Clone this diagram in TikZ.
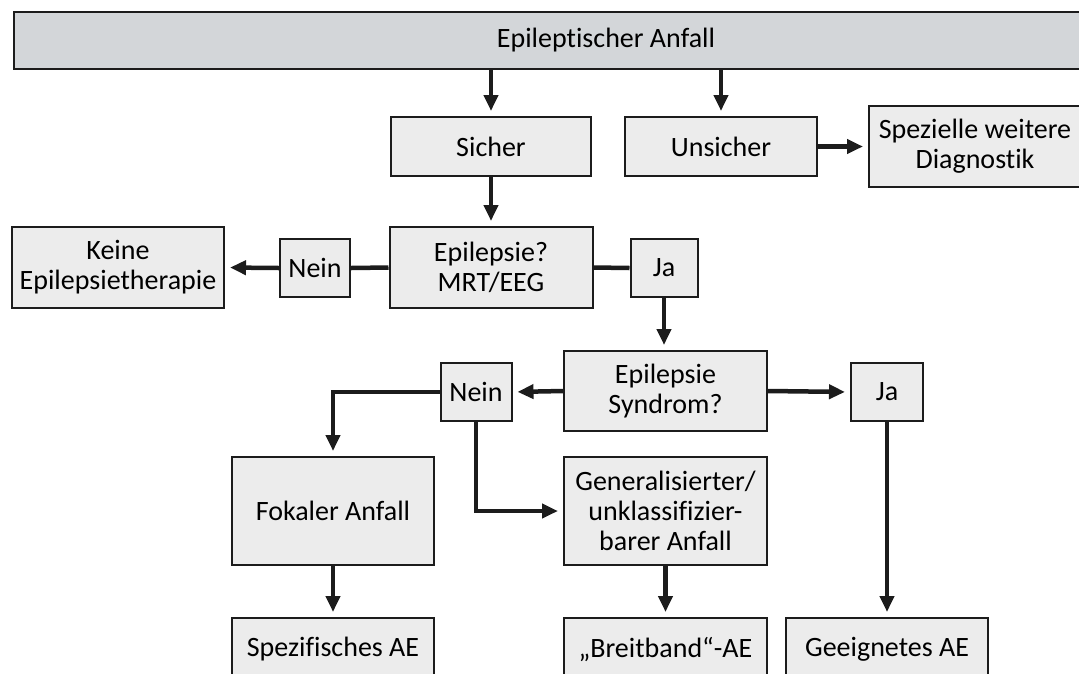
\documentclass[tikz,border=0pt]{standalone}
\usepackage{fontspec}
\setmainfont[Ligatures={NoCommon}]{Carlito}
\usetikzlibrary{arrows.meta}

\definecolor{barfill}{RGB}{211,214,217}
\definecolor{boxfill}{RGB}{236,236,236}
\definecolor{edge}{RGB}{28,28,28}

\begin{document}
\begin{tikzpicture}[x=1pt, y=-1pt,
    box/.style={draw=edge, fill=boxfill, line width=2pt, inner sep=0pt, align=center,
                font=\fontsize{28}{30}\selectfont},
    topbar/.style={box, fill=barfill},
    link/.style={draw=edge, line width=4.5pt},
    flow/.style={link, -{Triangle[length=16pt,width=14pt]}, shorten >=5pt}]
    \useasboundingbox (0,0) rectangle (1079,673);
    \clip (0,0) rectangle (1079,673);

    % Kopfzeile
    \node[topbar, minimum width=1184pt, minimum height=57pt] (anfall) at (606,40.5) {Epileptischer Anfall};

    \node[box, minimum width=200pt, minimum height=59pt] (sicher) at (491,146.5) {Sicher};
    \node[box, minimum width=192pt, minimum height=59pt] (unsicher) at (721,146.5) {Unsicher};
    \node[box, minimum width=212pt, minimum height=81pt] (spezdiag) at (975,146.5) {Spezielle weitere\\Diagnostik};

    \node[box, minimum width=212pt, minimum height=81pt] (keine) at (118,267.5) {Keine\\Epilepsietherapie};
    \node[box, minimum width=70pt, minimum height=58pt] (nein1) at (315,268) {Nein};
    \node[box, minimum width=203pt, minimum height=81pt] (epil) at (491,267.5) {Epilepsie?\\MRT/EEG};
    \node[box, minimum width=67pt, minimum height=58pt] (ja1) at (664,268) {Ja};

    \node[box, minimum width=203pt, minimum height=80pt] (syndrom) at (665.5,391) {Epilepsie\\Syndrom?};
    \node[box, minimum width=71pt, minimum height=58pt] (nein2) at (476,392) {Nein};
    \node[box, minimum width=72pt, minimum height=58pt] (ja2) at (887,392) {Ja};

    \node[box, minimum width=202pt, minimum height=108pt] (fokal) at (333,511) {Fokaler Anfall};
    \node[box, minimum width=203pt, minimum height=108pt] (general) at (665.5,511) {Generalisierter/\\unklassifizier-\\barer Anfall};

    \node[box, minimum width=202pt, minimum height=62pt] (spezae) at (333,649) {Spezifisches AE};
    \node[box, minimum width=203pt, minimum height=62pt] (breitae) at (665.5,649) {„Breitband“-AE};
    \node[box, minimum width=202pt, minimum height=62pt] (geeigae) at (887,649) {Geeignetes AE};

    \draw[flow] (anfall.south -| sicher.north) -- (sicher.north);
    \draw[flow] (anfall.south -| unsicher.north) -- (unsicher.north);
    \draw[flow] (unsicher.east) -- (spezdiag.west);
    \draw[flow] (sicher.south) -- (epil.north);

    \draw[link] (epil.west) -- (nein1.east);
    \draw[flow] (nein1.west) -- (keine.east);
    \draw[link] (epil.east) -- (ja1.west);
    \draw[flow] (ja1.south) -- (ja1.south |- syndrom.north);

    \draw[flow] (syndrom.west) -- (nein2.east);
    \draw[flow] (syndrom.east) -- (ja2.west);
    \draw[flow] (nein2.west) -| (fokal.north);
    \draw[flow] (nein2.south) |- (general.west);
    \draw[flow] (ja2.south) -- (geeigae.north);

    \draw[flow] (fokal.south) -- (spezae.north);
    \draw[flow] (general.south) -- (breitae.north);
\end{tikzpicture}
\end{document}
